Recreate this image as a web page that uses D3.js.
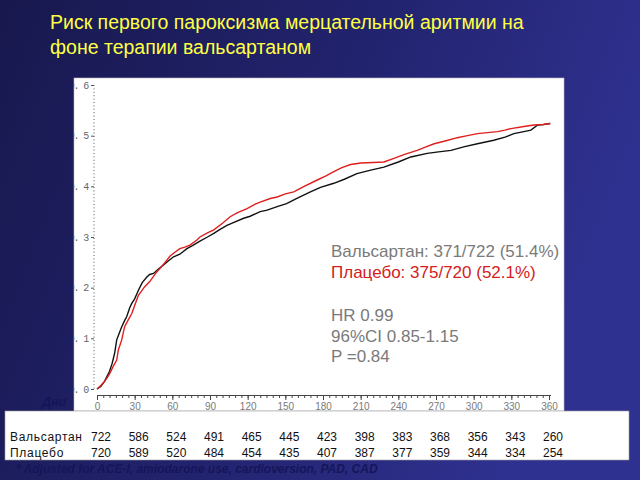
<!DOCTYPE html>
<html><head><meta charset="utf-8">
<script src="https://cdn.jsdelivr.net/npm/d3@7/dist/d3.min.js"></script>
<style>html,body{margin:0;padding:0;overflow:hidden;}svg{display:block;}</style>
</head><body>
<svg id="c" width="640" height="480"></svg>
<script>
// ---- data ----
const title1 = "Риск первого пароксизма мерцательной аритмии на";
const title2 = "фоне терапии вальсартаном";
const xTicks = [0,30,60,90,120,150,180,210,240,270,300,330,360];
const yTicks = [0,0.1,0.2,0.3,0.4,0.5,0.6];
const yTickLabels = ["0. 0","0. 1","0. 2","0. 3","0. 4","0. 5","0. 6"];
const valsDays = [0,3,6,8,10,12,14,15.7,18,19.7,22,23.7,26,27.7,30,33,36,39.7,42,45,49,53,57,61,66,71.6,76,82,88,93,98,103.5,110,116.8,122,130,135.5,143.5,151,160,170,178,188.6,197,207,218,228.5,240,250,263,272,282,292,303,316,325,332,340,345.6,351,356,361];
const valsRisk = [0,0.005,0.015,0.025,0.035,0.05,0.07,0.097,0.112,0.123,0.135,0.143,0.16,0.169,0.178,0.195,0.21,0.221,0.226,0.228,0.237,0.245,0.253,0.261,0.266,0.277,0.283,0.292,0.3,0.307,0.315,0.323,0.33,0.337,0.341,0.35,0.353,0.36,0.366,0.377,0.389,0.398,0.406,0.414,0.425,0.432,0.438,0.448,0.458,0.465,0.468,0.471,0.478,0.484,0.491,0.497,0.504,0.508,0.511,0.521,0.522,0.524];
const placDays = [0,3,6,8,10,13,15.7,17,19.7,22,25,27.7,30,33,36,38,42,47.6,52,55.6,58,62,66,70,74,79.6,82,88,93,100,106,112,119.5,126,130,138,143.5,150,156.7,165,175,182,188.6,195,202,210,220,228.5,236.5,245,255,262,268.5,278,287,295,303,311,319,325,329.7,340,348,355,361];
const placRisk = [0,0.007,0.015,0.022,0.03,0.045,0.057,0.077,0.097,0.123,0.137,0.149,0.165,0.185,0.195,0.202,0.212,0.231,0.243,0.254,0.262,0.27,0.277,0.28,0.284,0.294,0.3,0.308,0.314,0.327,0.34,0.348,0.356,0.365,0.369,0.376,0.379,0.385,0.389,0.4,0.412,0.42,0.429,0.437,0.443,0.446,0.447,0.448,0.455,0.463,0.471,0.478,0.484,0.49,0.496,0.5,0.504,0.506,0.508,0.511,0.514,0.518,0.521,0.522,0.524];
const tableLabels = ["Вальсартан","Плацебо"];
const atRiskVals = [722,586,524,491,465,445,423,398,383,368,356,343,260];
const atRiskPlac = [720,589,520,484,454,435,407,387,377,359,344,334,254];
const legendLines = ["Вальсартан: 371/722 (51.4%)","Плацебо: 375/720 (52.1%)","HR 0.99","96%CI 0.85-1.15","P =0.84"];
const daysLabel = "Дни";
const footnote = "* Adjusted for ACE-I, amiodarone use, cardioversion, PAD, CAD";

// ---- drawing ----
const svg = d3.select("#c");
const defs = svg.append("defs");
const g1 = defs.append("linearGradient").attr("id","bg").attr("x1","0").attr("y1","0").attr("x2","1").attr("y2","0.3");
g1.append("stop").attr("offset","0").attr("stop-color","#18184e");
g1.append("stop").attr("offset","0.55").attr("stop-color","#22236e");
g1.append("stop").attr("offset","1").attr("stop-color","#2f3190");
svg.append("rect").attr("width",640).attr("height",480).attr("fill","url(#bg)");

// title
const font = "'Liberation Sans', Arial, sans-serif";
svg.append("text").attr("x",50).attr("y",29).attr("fill","#ffff45").attr("font-family",font).attr("font-size",19.5).text(title1);
svg.append("text").attr("x",50).attr("y",54).attr("fill","#ffff45").attr("font-family",font).attr("font-size",19.5).text(title2);

// chart panel
const panel = {x:74,y:78,w:490,h:333};
svg.append("rect").attr("x",panel.x).attr("y",panel.y).attr("width",panel.w).attr("height",panel.h).attr("fill","#fff").attr("stroke","#bbb").attr("stroke-width",0.6);
defs.append("clipPath").attr("id","pc").append("rect").attr("x",panel.x).attr("y",panel.y).attr("width",panel.w).attr("height",panel.h);
const chart = svg.append("g").attr("clip-path","url(#pc)");

const x = d3.scaleLinear().domain([0,360]).range([97,549]);
const y = d3.scaleLinear().domain([0,0.6]).range([389,85]);

// x axis
const xAxisMinor = d3.axisBottom(x).tickValues(d3.range(0,361,5)).tickSize(3).tickSizeOuter(0).tickFormat("");
const gxm = chart.append("g").attr("transform","translate(0,395)").call(xAxisMinor);
gxm.select(".domain").attr("stroke","#444").attr("d","M"+x(0)+",0.5H"+(x(360)+2));
gxm.selectAll(".tick line").attr("stroke","#444");
const xAxis = d3.axisBottom(x).tickValues(xTicks).tickSize(5).tickSizeOuter(0).tickPadding(3);
const gx = chart.append("g").attr("transform","translate(0,395)").call(xAxis);
gx.select(".domain").remove();
gx.selectAll(".tick line").attr("stroke","#444");
gx.selectAll(".tick text").attr("fill","#7a7a7a").attr("font-family",font).attr("font-size",10);

// y axis (dotted)
chart.append("line").attr("x1",94).attr("x2",94).attr("y1",y(0.6)).attr("y2",y(0)+1).attr("stroke","#555").attr("stroke-width",1).attr("stroke-dasharray","1,2.4");
const yAxis = d3.axisLeft(y).tickValues(yTicks).tickSize(3).tickSizeOuter(0).tickPadding(3).tickFormat((d,i)=>yTickLabels[i]);
const gy = chart.append("g").attr("transform","translate(94,0)").call(yAxis);
gy.select(".domain").remove();
gy.selectAll(".tick line").attr("stroke","#555");
gy.selectAll(".tick text").attr("fill","#666").attr("font-family","'Liberation Mono', monospace").attr("font-size",10).attr("letter-spacing",-1.2);

// curves
const line = d3.line().curve(d3.curveLinear).x(d=>x(d[0])).y(d=>y(d[1]));
const valsData = valsDays.map((d,i)=>[d,valsRisk[i]]);
const placData = placDays.map((d,i)=>[d,placRisk[i]]);
chart.append("path").datum(valsData).attr("d",line).attr("fill","none").attr("stroke","#111").attr("stroke-width",1.4);
chart.append("path").datum(placData).attr("d",line).attr("fill","none").attr("stroke","#e01e1e").attr("stroke-width",1.4);

// legend text
const legY = [257,278,321,342,362];
const legC = ["#7a7a7a","#d42020","#7a7a7a","#7a7a7a","#7a7a7a"];
chart.selectAll("text.leg").data(legendLines).join("text").attr("class","leg")
  .attr("x",331).attr("y",(d,i)=>legY[i]).attr("fill",(d,i)=>legC[i])
  .attr("font-family",font).attr("font-size",17).text(d=>d);

// "Дни"
svg.append("text").attr("x",42).attr("y",406).attr("fill","#13135c").attr("font-family",font).attr("font-size",12.5).attr("font-weight","bold").attr("font-style","italic").text(daysLabel);

// table
svg.append("rect").attr("x",5).attr("y",411).attr("width",624).attr("height",49).attr("fill","#fff").attr("stroke","#999").attr("stroke-width",0.6);
const tx = d => x(d)+4;
svg.append("text").attr("x",10).attr("y",441).attr("fill","#111").attr("font-family",font).attr("font-size",12).attr("letter-spacing",0.7).text(tableLabels[0]);
svg.append("text").attr("x",10).attr("y",457).attr("fill","#111").attr("font-family",font).attr("font-size",12).attr("letter-spacing",0.7).text(tableLabels[1]);
svg.selectAll("text.rv").data(atRiskVals).join("text").attr("class","rv")
  .attr("x",(d,i)=>tx(xTicks[i])).attr("y",441).attr("text-anchor","middle")
  .attr("fill","#111").attr("font-family",font).attr("font-size",12).text(d=>d);
svg.selectAll("text.rp").data(atRiskPlac).join("text").attr("class","rp")
  .attr("x",(d,i)=>tx(xTicks[i])).attr("y",457).attr("text-anchor","middle")
  .attr("fill","#111").attr("font-family",font).attr("font-size",12).text(d=>d);

// footnote
svg.append("text").attr("x",16).attr("y",473).attr("fill","#15155a").attr("font-family",font).attr("font-size",12).attr("font-weight","bold").attr("font-style","italic").text(footnote);
</script>
</body></html>
